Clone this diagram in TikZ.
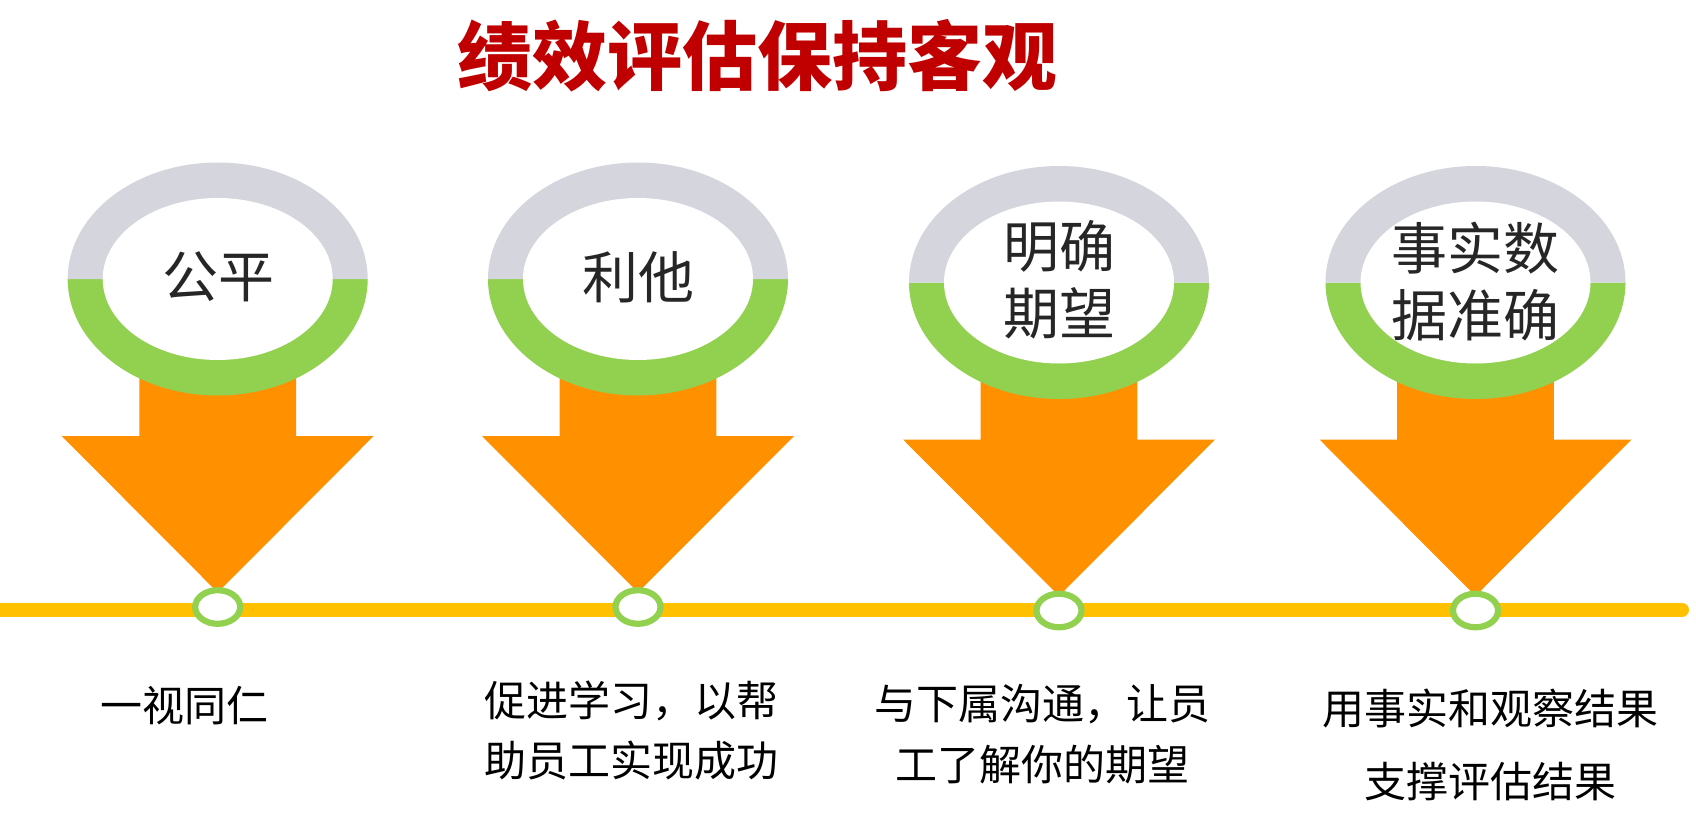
\documentclass[tikz,border=0pt]{standalone}
\usepackage{fontspec}
\newfontfamily\cjk{Noto Sans CJK SC}
\definecolor{ringgrey}{HTML}{D5D5DD}
\definecolor{ringgreen}{HTML}{92D050}
\definecolor{arroworange}{HTML}{FF9100}
\definecolor{lineyellow}{HTML}{FFC000}
\definecolor{titlered}{HTML}{C00000}
\definecolor{textdark}{HTML}{262626}
\tikzset{
  titletext/.style={inner sep=0pt, text=titlered, font=\cjk\bfseries\fontsize{75}{80}\selectfont},
  keytext/.style={inner sep=0pt, text=textdark, align=center, font=\cjk\fontsize{56}{67}\selectfont},
  desctext/.style={inner sep=0pt, text=black, align=center, font=\cjk\fontsize{42}{60}\selectfont},
  timeline/.style={draw=lineyellow, line width=14pt, line cap=round},
  dotring/.style={draw=ringgreen, line width=6.2pt, fill=white},
}
\begin{document}
\begin{tikzpicture}[x=1pt,y=1pt]
\useasboundingbox (0,0) rectangle (1696,-834);
\fill[white] (0,0) rectangle (1696,-834);
\node[titletext] (title) at (757.5,-56) {绩效评估保持客观};
\foreach \cx/\dy in {217.7/0, 638/0, 1059/3.5, 1475.5/3.5}{
  \pgfmathsetmacro\ey{-279-\dy}
  \pgfmathsetmacro\hy{-436-\dy}
  \pgfmathsetmacro\ty{-592.5-\dy}
  \fill[arroworange] (\cx-78.3,\ey) -- (\cx+78.3,\ey) -- (\cx+78.3,\hy) -- (\cx+156,\hy)
     -- (\cx,\ty) -- (\cx-156,\hy) -- (\cx-78.3,\hy) -- cycle;
  \fill[ringgreen] (\cx-150,\ey) arc[start angle=180,end angle=360,x radius=150,y radius=116.5] -- cycle;
  \fill[ringgrey] (\cx+150,\ey) arc[start angle=0,end angle=180,x radius=150,y radius=116.5] -- cycle;
  \fill[white] (\cx,\ey) ellipse[x radius=115,y radius=81];
}
\coordinate (lineL) at (-20,-609.7);
\coordinate (lineR) at (1682,-609.7);
\draw[timeline] (lineL) -- (lineR);
\foreach \cx/\dy in {217.7/0, 638/0, 1059/3.5, 1475.5/3.5}{
  \draw[dotring] (\cx,-607-\dy) ellipse[x radius=22.5,y radius=16.8];
}
\node[keytext] (k1) at (218,-277) {公平};
\node[keytext] (k2) at (638,-277) {利他};
\node[keytext] (k3) at (1059,-280) {明确\\期望};
\node[keytext] (k4) at (1475.5,-281.5) {事实数\\据准确};
\node[desctext] (d1) at (184,-705.5) {一视同仁};
\node[desctext] (d2) at (631.5,-730.5) {促进学习，以帮\\助员工实现成功};
\node[desctext] (d3) at (1042,-734.5) {与下属沟通，让员\\[1pt]工了解你的期望};
\node[desctext] (d4) at (1490,-744.75) {用事实和观察结果\\[13.5pt]支撑评估结果};
\end{tikzpicture}
\end{document}
